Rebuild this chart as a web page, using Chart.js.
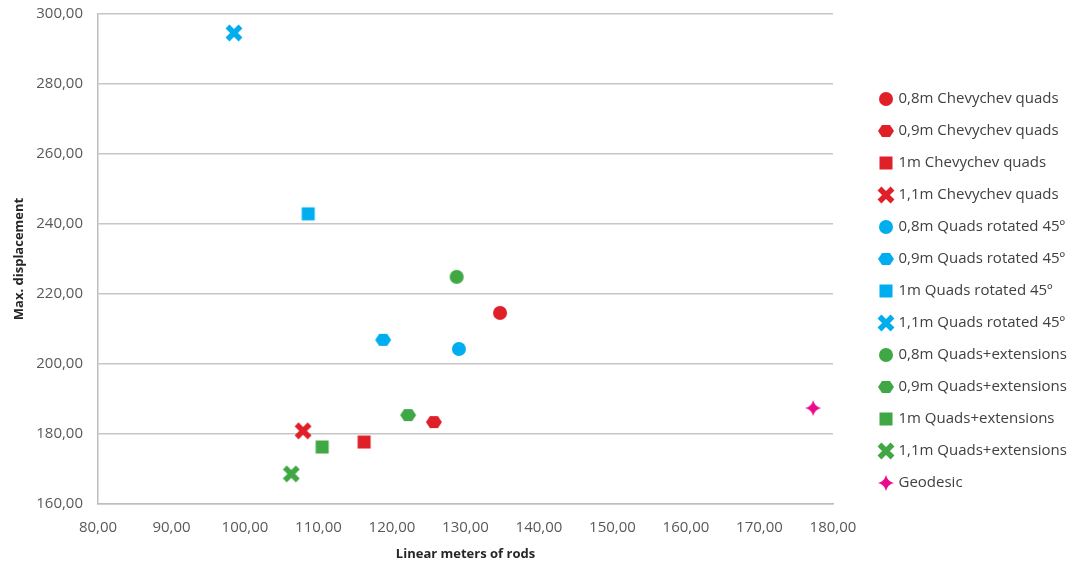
<!DOCTYPE html>
<html>
<head>
<meta charset="utf-8">
<script src="https://cdn.jsdelivr.net/npm/chart.js@4.4.1/dist/chart.umd.min.js"></script>
<style>
  html, body { margin: 0; padding: 0; background: #fff; }
  #wrap { width: 1075px; height: 562px; }
</style>
</head>
<body>
<div id="wrap"><canvas id="chart"></canvas></div>
<script>
// Serien (Name, X = Laufmeter Stäbe, Y = max. Verschiebung)
const seriesNames = [
  '0,8m Chevychev quads', '0,9m Chevychev quads', '1m Chevychev quads', '1,1m Chevychev quads',
  '0,8m Quads rotated 45º', '0,9m Quads rotated 45º', '1m Quads rotated 45º', '1,1m Quads rotated 45º',
  '0,8m Quads+extensions', '0,9m Quads+extensions', '1m Quads+extensions', '1,1m Quads+extensions',
  'Geodesic'
];
const linearMeters = [134.7, 125.7, 116.2, 107.9, 129.1, 118.8, 108.6, 98.5, 128.8, 122.2, 110.5, 106.3, 177.3];
const maxDisplacement = [214.6, 183.4, 177.7, 180.9, 204.3, 206.9, 242.9, 294.6, 224.9, 185.4, 176.3, 168.6, 187.4];

// Marker-Stil je Serie
const markerKinds = ['circle', 'hex', 'square', 'x', 'circle', 'hex', 'square', 'x', 'circle', 'hex', 'square', 'x', 'star'];
const markerColors = [
  '#df2029', '#df2029', '#df2029', '#df2029',
  '#00aeef', '#00aeef', '#00aeef', '#00aeef',
  '#3fa844', '#3fa844', '#3fa844', '#3fa844',
  '#ea0a8c'
];

// Marker als kleine Canvas-Bilder zeichnen
function makeMarker(kind, color) {
  const c = document.createElement('canvas');
  const s = 18;
  c.width = s; c.height = s;
  const g = c.getContext('2d');
  const m = s / 2;
  g.fillStyle = color;
  g.strokeStyle = color;
  if (kind === 'circle') {
    g.beginPath(); g.arc(m, m, 7, 0, Math.PI * 2); g.fill();
  } else if (kind === 'hex') {
    g.beginPath();
    for (let i = 0; i < 6; i++) {
      const a = i * Math.PI / 3;
      const px = m + 8 * Math.cos(a), py = m + 7 * Math.sin(a);
      i ? g.lineTo(px, py) : g.moveTo(px, py);
    }
    g.closePath(); g.fill();
  } else if (kind === 'square') {
    g.fillRect(m - 6.5, m - 6.5, 13, 13);
  } else if (kind === 'x') {
    g.lineWidth = 5.5;
    g.beginPath();
    g.moveTo(2.5, 2.5); g.lineTo(s - 2.5, s - 2.5);
    g.moveTo(s - 2.5, 2.5); g.lineTo(2.5, s - 2.5);
    g.stroke();
  } else if (kind === 'star') {
    g.beginPath();
    g.moveTo(m, 1);
    g.quadraticCurveTo(m + 1.5, m - 1.5, s - 1, m);
    g.quadraticCurveTo(m + 1.5, m + 1.5, m, s - 1);
    g.quadraticCurveTo(m - 1.5, m + 1.5, 1, m);
    g.quadraticCurveTo(m - 1.5, m - 1.5, m, 1);
    g.closePath(); g.fill();
  }
  return c;
}

const comma = v => Number(v).toFixed(2).replace('.', ',');

const datasets = seriesNames.map((name, i) => ({
  label: name,
  data: [{ x: linearMeters[i], y: maxDisplacement[i] }],
  pointStyle: makeMarker(markerKinds[i], markerColors[i]),
  backgroundColor: markerColors[i],
  borderColor: markerColors[i],
  showLine: false
}));

const tickFont = { family: 'Open Sans', size: 15 };
const titleFont = { family: 'Open Sans', size: 13, weight: 'bold' };

// Legende: Breite fix, Einträge etwas nach rechts/unten schieben
const LEGEND_W = 242;
const legendShift = {
  id: 'legendShift',
  beforeInit(chart) {
    const lg = chart.legend;
    if (!lg) return;
    const fit = lg.fit;
    lg.fit = function () { fit.call(this); this.width = LEGEND_W; };
  },
  afterLayout(chart) {
    const lg = chart.legend;
    lg.left = 864;
    lg.right = 1075;
    lg.top += 3;
    lg.bottom += 3;
  }
};

new Chart(document.getElementById('chart'), {
  type: 'scatter',
  data: { datasets },
  plugins: [legendShift],
  options: {
    responsive: true,
    maintainAspectRatio: false,
    animation: false,
    layout: { padding: { top: 14, left: 0, right: 0, bottom: 0 } },
    scales: {
      x: {
        type: 'linear',
        min: 80, max: 180,
        ticks: { stepSize: 10, callback: comma, font: tickFont, color: '#595959', padding: 15 },
        grid: { display: false, drawTicks: false },
        border: { display: true, color: '#bdbdbd', width: 1.5 },
        title: { display: true, text: 'Linear meters of rods', font: titleFont, color: '#262626', padding: { top: 4, bottom: 0 } },
        afterFit: s => { s.height = 58; }
      },
      y: {
        type: 'linear',
        min: 160, max: 300,
        ticks: { stepSize: 20, callback: comma, font: tickFont, color: '#595959', padding: 15 },
        grid: { color: '#c6c6c6', lineWidth: 1.5, drawTicks: false },
        border: { display: true, color: '#bdbdbd', width: 1.5 },
        title: { display: true, text: 'Max. displacement', font: titleFont, color: '#262626', padding: { top: 11, bottom: 0 } },
        afterFit: s => { s.width = 98; s.paddingTop = 0; s.paddingBottom = 0; }
      }
    },
    plugins: {
      legend: {
        position: 'right',
        labels: {
          usePointStyle: true,
          boxWidth: 10,
          boxHeight: 15,
          padding: 17,
          font: { family: 'Open Sans', size: 15 },
          color: '#404040'
        }
      },
      tooltip: { enabled: false }
    }
  }
});
</script>
</body>
</html>
